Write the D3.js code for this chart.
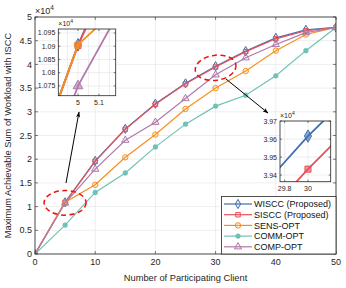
<!DOCTYPE html>
<html><head><meta charset="utf-8">
<script src="https://cdn.jsdelivr.net/npm/d3@7"></script>
<style>body{margin:0;background:#fff}svg{display:block;font-family:"Liberation Sans",Arial,sans-serif}</style>
</head><body><svg id="c" width="346" height="288"></svg>
<script>
const clients = [0,5,10,15,20,25,30,35,40,45,50];
const wiscc = [0,1.0905,1.965,2.64,3.17,3.60,3.9617,4.28,4.56,4.73,4.78];
const siscc = [0,1.0903,1.955,2.63,3.16,3.59,3.9433,4.27,4.54,4.71,4.78];
const sensOpt = [0,1.0905,1.46,2.04,2.52,3.06,3.50,3.86,4.29,4.63,4.78];
const commOpt = [0,0.61,1.30,1.71,2.26,2.74,3.12,3.35,3.76,4.29,4.78];
const compOpt = [0,1.0750,1.79,2.40,2.78,3.28,3.78,4.14,4.42,4.67,4.78];
const seriesNames = ["WISCC (Proposed)","SISCC (Proposed)","SENS-OPT","COMM-OPT","COMP-OPT"];
const xTicks = [0,10,20,30,40,50];
const yTicks = [0,0.5,1,1.5,2,2.5,3,3.5,4,4.5,5];
const inset1XTicks = [5,5.1];
const inset1YTicks = [1.075,1.08,1.085,1.09,1.095];
const inset2XTicks = [29.8,30];
const inset2YTicks = [3.94,3.95,3.96,3.97];

const colors = ["#3f6fae","#e8505a","#f5901f","#6fc2b5","#b07aab"];
const shapes = [d3.symbolDiamond, d3.symbolSquare, d3.symbolCircle, d3.symbolCircle, d3.symbolTriangle];
const data = [wiscc,siscc,sensOpt,commOpt,compOpt];

const svg = d3.select("#c");
const L=35,R=336,T=17,B=254;
const x = d3.scaleLinear().domain([0,50]).range([L,R]);
const y = d3.scaleLinear().domain([0,5]).range([B,T]);
const defs = svg.append("defs");
defs.append("marker").attr("id","ah").attr("viewBox","0 0 10 10").attr("refX",9).attr("refY",5)
  .attr("markerWidth",6).attr("markerHeight",6).attr("orient","auto")
  .append("path").attr("d","M0,1.5 L10,5 L0,8.5 L2.5,5 Z").attr("fill","#000");

function marker(g, i, px, py, size, fillOp){
  if(i===3){
    g.append("circle").attr("cx",px).attr("cy",py).attr("r",size*0.5).attr("fill",colors[i]);
    return;
  }
  const area = i===0? size*size*0.9 : i===1? size*size*0.75 : i===2? size*size*0.85 : size*size*0.85;
  g.append("path").attr("d",d3.symbol().type(shapes[i]).size(area)())
    .attr("transform",`translate(${px},${py})`)
    .attr("fill",colors[i]).attr("fill-opacity",fillOp).attr("stroke",colors[i]).attr("stroke-width",1);
}

function panel(g, xs, ys, xt, yt, xtFmt, ytFmt, opts){
  const [x0,x1]=xs.range(), [y0,y1]=ys.range();
  g.append("rect").attr("x",x0).attr("y",y1).attr("width",x1-x0).attr("height",y0-y1).attr("fill","#fff");
  const grid=g.append("g").attr("stroke","#e3e3e3").attr("stroke-width",0.6);
  (opts.gridX||xt).forEach(v=>grid.append("line").attr("x1",xs(v)).attr("x2",xs(v)).attr("y1",y1).attr("y2",y0));
  yt.forEach(v=>grid.append("line").attr("y1",ys(v)).attr("y2",ys(v)).attr("x1",x0).attr("x2",x1));
  const id = "clip"+opts.id;
  defs.append("clipPath").attr("id",id).append("rect").attr("x",x0).attr("y",y1).attr("width",x1-x0).attr("height",y0-y1);
  const plot=g.append("g").attr("clip-path",`url(#${id})`);
  const line=d3.line().x((d,k)=>xs(clients[k])).y(d=>ys(d));
  data.forEach((ser,i)=>{
    plot.append("path").attr("d",line(ser)).attr("fill","none").attr("stroke",colors[i]).attr("stroke-width",opts.lw);
    ser.forEach((v,k)=>{
      const px=xs(clients[k]), py=ys(v);
      if(px>=x0-6&&px<=x1+6&&py>=y1-6&&py<=y0+6) marker(plot,i,px,py,opts.ms,opts.fo);
    });
  });
  const ax=g.append("g").attr("font-size",opts.fs).attr("fill","#262626");
  const tl=opts.tl;
  const tk=g.append("g").attr("stroke","#262626").attr("stroke-width",0.6);
  xt.forEach(v=>{
    tk.append("line").attr("x1",xs(v)).attr("x2",xs(v)).attr("y1",y0).attr("y2",y0-tl);
    tk.append("line").attr("x1",xs(v)).attr("x2",xs(v)).attr("y1",y1).attr("y2",y1+tl);
    ax.append("text").attr("x",xs(v)).attr("y",y0+opts.fs+2).attr("text-anchor","middle").text(xtFmt(v));
  });
  yt.forEach(v=>{
    tk.append("line").attr("y1",ys(v)).attr("y2",ys(v)).attr("x1",x0).attr("x2",x0+tl);
    tk.append("line").attr("y1",ys(v)).attr("y2",ys(v)).attr("x1",x1).attr("x2",x1-tl);
    ax.append("text").attr("x",x0-3).attr("y",ys(v)).attr("dy","0.35em").attr("text-anchor","end").text(ytFmt(v));
  });
  g.append("rect").attr("x",x0).attr("y",y1).attr("width",x1-x0).attr("height",y0-y1)
    .attr("fill","none").attr("stroke","#262626").attr("stroke-width",0.8);
  const e=ax.append("text").attr("x",x0).attr("y",y1-3);
  e.append("tspan").text("×10");
  e.append("tspan").attr("dy",-opts.fs*0.4).attr("font-size",opts.fs*0.72).text("4");
}

// main
const main=svg.append("g");
panel(main,x,y,xTicks,yTicks,d=>d,d=>d,{id:"m",lw:1.2,ms:5.2,fo:0.12,fs:9,tl:3});

svg.append("text").attr("x",(L+R)/2).attr("y",281).attr("text-anchor","middle").attr("font-size",9.3).attr("fill","#262626")
  .text("Number of Participating Client");
svg.append("text").attr("transform",`translate(11,${(T+B)/2}) rotate(-90)`).attr("text-anchor","middle").attr("font-size",9.3).attr("fill","#262626")
  .text("Maximum Achievable Sum of Workload with ISCC");

// ellipses
svg.append("ellipse").attr("cx",x(5)).attr("cy",y(1.09)+0.5).attr("rx",21).attr("ry",12.3)
  .attr("fill","none").attr("stroke","#f01010").attr("stroke-width",1.5).attr("stroke-dasharray","5,3.5");
svg.append("ellipse").attr("cx",x(30)).attr("cy",y(3.95)+1).attr("rx",20.5).attr("ry",12.5)
  .attr("transform",`rotate(-8,${x(30)},${y(3.95)+1})`)
  .attr("fill","none").attr("stroke","#f01010").attr("stroke-width",1.5).attr("stroke-dasharray","5,3.5");

// legend
const lg=svg.append("g");
lg.append("rect").attr("x",221.5).attr("y",196.5).attr("width",114.5).attr("height",57.5).attr("fill","#fff").attr("stroke","#262626").attr("stroke-width",0.8);
seriesNames.forEach((n,i)=>{
  const ly=204+i*10.7;
  lg.append("line").attr("x1",224).attr("x2",252).attr("y1",ly).attr("y2",ly).attr("stroke",colors[i]).attr("stroke-width",1.2);
  marker(lg,i,238,ly,5.2,0.12);
  lg.append("text").attr("x",254).attr("y",ly).attr("dy","0.35em").attr("font-size",9).attr("fill","#111").text(n);
});

// arrows
svg.append("line").attr("x1",66).attr("y1",183).attr("x2",79).attr("y2",112).attr("stroke","#000").attr("stroke-width",1).attr("marker-end","url(#ah)");
svg.append("line").attr("x1",226).attr("y1",79).attr("x2",268).attr("y2",113).attr("stroke","#000").attr("stroke-width",1).attr("marker-end","url(#ah)");

// inset 1
const ix1=d3.scaleLinear().domain([4.906,5.18]).range([58.3,115.7]);
const iy1=d3.scaleLinear().domain([1.0713,1.0965]).range([95.7,29]);
panel(svg.append("g"),ix1,iy1,inset1XTicks,inset1YTicks,d=>d,d=>d3.format(".3~f")(d),
  {id:"i1",lw:1.8,ms:7,fo:0.6,fs:7,tl:2,gridX:[4.95,5,5.05,5.1,5.15]});

// inset 2
const ix2=d3.scaleLinear().domain([29.76,30.195]).range([280,330.7]);
const iy2=d3.scaleLinear().domain([3.9363,3.9701]).range([181.7,121]);
panel(svg.append("g"),ix2,iy2,inset2XTicks,inset2YTicks,d=>d,d=>d3.format(".2f")(d),
  {id:"i2",lw:1.8,ms:7,fo:0.6,fs:7,tl:2});
</script></body></html>
